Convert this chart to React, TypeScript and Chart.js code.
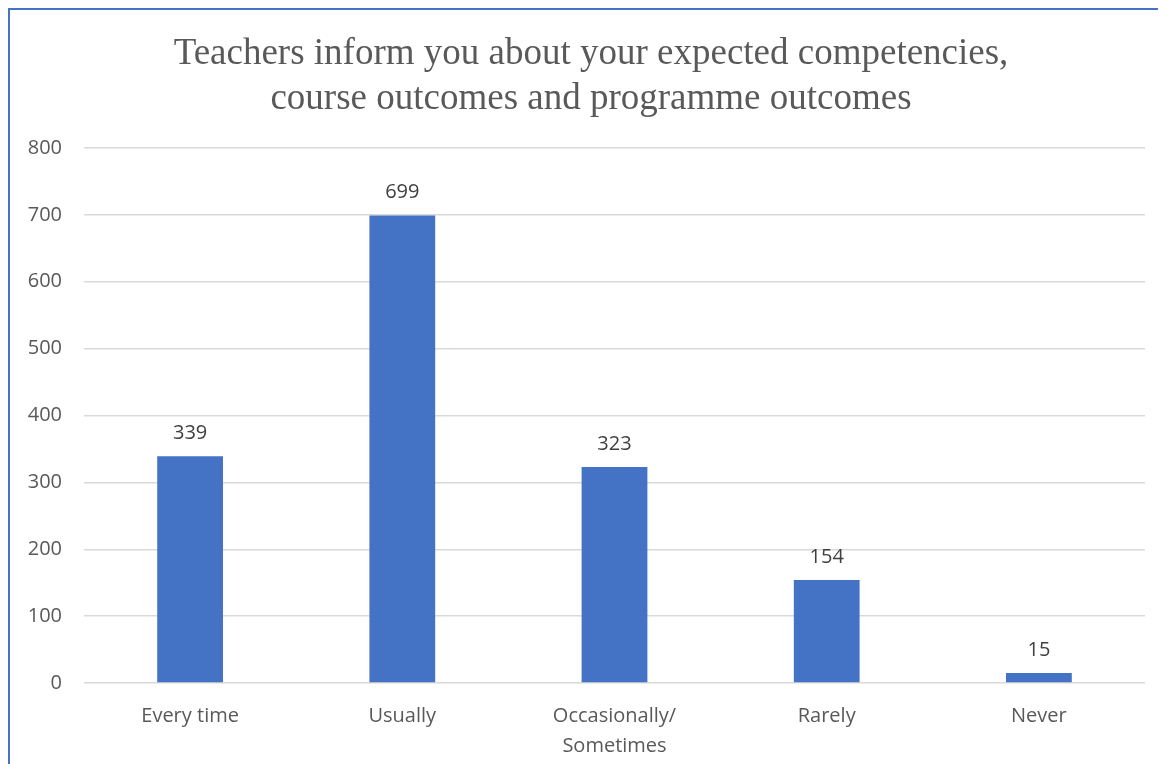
import React, { useEffect, useRef } from "react";
import { Chart, registerables } from "chart.js";

Chart.register(...registerables);

const categories: (string | string[])[] = ["Every time", "Usually", ["Occasionally/", "Sometimes"], "Rarely", "Never"];
const values: number[] = [339, 699, 323, 154, 15];
const titleLines: string[] = ["Teachers inform you about your expected competencies,", "course outcomes and programme outcomes"];

const valueLabels = {
  id: "valueLabels",
  afterDatasetsDraw(chart: any) {
    const ctx = chart.ctx;
    const meta = chart.getDatasetMeta(0);
    ctx.save();
    ctx.font = "20px 'Open Sans', sans-serif";
    ctx.fillStyle = "#404040";
    ctx.textAlign = "center";
    ctx.textBaseline = "middle";
    meta.data.forEach((bar: any, i: number) => {
      ctx.fillText(String(values[i]), bar.x, bar.y - 23);
    });
    ctx.restore();
  },
};

const chartTitle = {
  id: "chartTitle",
  afterDraw(chart: any) {
    const ctx = chart.ctx;
    ctx.save();
    ctx.font = "37px 'Liberation Serif', 'Times New Roman', serif";
    ctx.fillStyle = "#595959";
    ctx.textAlign = "center";
    ctx.textBaseline = "middle";
    titleLines.forEach((line, i) => {
      ctx.fillText(line, 581, 44 + i * 45);
    });
    ctx.restore();
  },
};

export default function App() {
  const ref = useRef<HTMLCanvasElement>(null);
  useEffect(() => {
    if (!ref.current) return;
    const chart = new Chart(ref.current, {
      type: "bar",
      data: {
        labels: categories,
        datasets: [
          {
            data: values,
            backgroundColor: "#4472C4",
            categoryPercentage: 1,
            barPercentage: 0.31,
          },
        ],
      },
      options: {
        responsive: false,
        animation: false,
        layout: { padding: { left: 0, right: 21, top: 138, bottom: 0 } },
        plugins: {
          legend: { display: false },
          tooltip: { enabled: false },
          title: { display: false },
        },
        scales: {
          x: {
            grid: { display: false },
            border: { display: false },
            ticks: {
              color: "#595959",
              font: { family: "'Open Sans', sans-serif", size: 20, lineHeight: 1.5 },
              padding: 10,
              maxRotation: 0,
            },
            afterFit: (s: any) => {
              s.height = 81;
            },
          },
          y: {
            min: 0,
            max: 800,
            ticks: {
              stepSize: 100,
              color: "#595959",
              font: { family: "'Open Sans', sans-serif", size: 20 },
              padding: 22,
            },
            grid: { color: "#d9d9d9", lineWidth: 1.5, drawTicks: false },
            border: { display: false },
            afterFit: (s: any) => {
              s.width = 74;
            },
          },
        },
      },
      plugins: [valueLabels, chartTitle],
    });
    return () => chart.destroy();
  }, []);
  return (
    <div style={{ width: 1158, height: 756, boxSizing: "border-box", borderLeft: "2px solid #4472C4", borderTop: "2px solid #4472C4", background: "#fff" }}>
      <canvas ref={ref} width={1156} height={754} style={{ display: "block" }} />
    </div>
  );
}
